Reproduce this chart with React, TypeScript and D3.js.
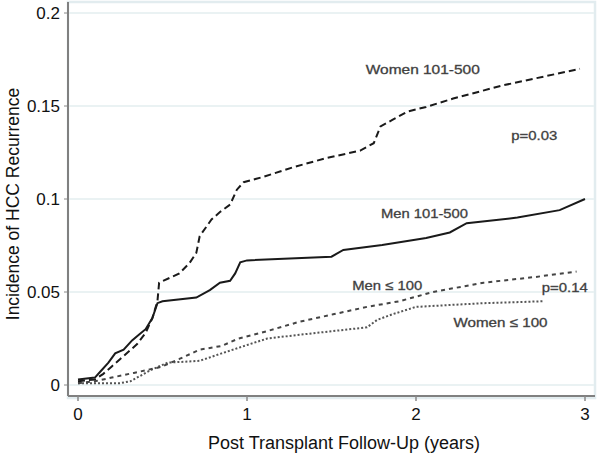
import React from "react";
import * as d3 from "d3";

const womenHighT = [0, 0.1, 0.15, 0.2, 0.25, 0.3, 0.35, 0.4, 0.44, 0.47, 0.48, 0.6, 0.66, 0.7, 0.72, 0.79, 0.84, 0.9, 0.94, 0.98, 1.1, 1.27, 1.47, 1.67, 1.75, 1.79, 1.86, 1.95, 2.06, 2.22, 2.51, 2.97];
const womenHighV = [0.002, 0.003, 0.006, 0.01, 0.014, 0.018, 0.022, 0.028, 0.036, 0.045, 0.055, 0.06, 0.0656, 0.071, 0.08, 0.089, 0.093, 0.097, 0.105, 0.109, 0.112, 0.117, 0.122, 0.126, 0.13, 0.139, 0.1425, 0.147, 0.1495, 0.154, 0.161, 0.17];

const menHighT = [0, 0.1, 0.13, 0.18, 0.22, 0.27, 0.32, 0.36, 0.4, 0.44, 0.47, 0.5, 0.7, 0.78, 0.84, 0.9, 0.93, 0.96, 1.0, 1.5, 1.57, 1.8, 2.06, 2.2, 2.3, 2.6, 2.85, 3.0];
const menHighV = [0.003, 0.004, 0.007, 0.012, 0.017, 0.019, 0.024, 0.027, 0.03, 0.036, 0.044, 0.045, 0.047, 0.051, 0.055, 0.056, 0.06, 0.066, 0.067, 0.069, 0.0726, 0.0753, 0.079, 0.082, 0.087, 0.09, 0.094, 0.1];

const menLowT = [0, 0.1, 0.2, 0.33, 0.49, 0.6, 0.72, 0.85, 0.95, 1.12, 1.31, 1.51, 1.71, 1.9, 2.1, 2.4, 2.7, 2.95];
const menLowV = [0.001, 0.002, 0.004, 0.0065, 0.0097, 0.014, 0.019, 0.021, 0.025, 0.029, 0.034, 0.038, 0.042, 0.045, 0.05, 0.055, 0.058, 0.061];

const womenLowT = [0, 0.25, 0.31, 0.43, 0.53, 0.72, 0.85, 0.95, 1.12, 1.31, 1.51, 1.71, 1.77, 1.86, 2.0, 2.4, 2.75];
const womenLowV = [0.001, 0.001, 0.002, 0.008, 0.012, 0.013, 0.017, 0.02, 0.025, 0.027, 0.029, 0.031, 0.035, 0.038, 0.042, 0.044, 0.045];

const yTicks = [0, 0.05, 0.1, 0.15, 0.2];
const yTickLabels = ["0", "0.05", "0.1", "0.15", "0.2"];
const xTicks = [0, 1, 2, 3];

const labels = [
  { text: "Women 101-500", t: 2.04, v: 0.1695, w: 114 },
  { text: "p=0.03", t: 2.7, v: 0.134, w: 46 },
  { text: "Men 101-500", t: 2.05, v: 0.0925, w: 87 },
  { text: "Men \u2264 100", t: 1.83, v: 0.0535, w: 70 },
  { text: "p=0.14", t: 2.88, v: 0.0525, w: 46 },
  { text: "Women \u2264 100", t: 2.5, v: 0.0335, w: 94 },
];

export default function App() {
  const W = 600, H = 457;
  const x = d3.scaleLinear().domain([0, 3]).range([78, 585]);
  const y = d3.scaleLinear().domain([0, 0.2]).range([385, 13]);
  const line = d3.line<[number, number]>().x(d => x(d[0])).y(d => y(d[1]));
  const mk = (t: number[], v: number[]) => t.map((ti, i) => [ti, v[i]] as [number, number]);
  const series = [
    { d: mk(womenLowT, womenLowV), dash: "2,2", color: "#555" },
    { d: mk(menLowT, menLowV), dash: "4,4", color: "#444" },
    { d: mk(menHighT, menHighV), dash: "none", color: "#1a1a1a" },
    { d: mk(womenHighT, womenHighV), dash: "7,4", color: "#1a1a1a" },
  ];
  const font = "'Liberation Sans', Arial, sans-serif";
  return (
    <svg width={W} height={H} style={{ position: "absolute", left: 0, top: 0 }} fontFamily={font}>
      <rect x={0} y={0} width={W} height={H} fill="#fff" />
      <rect x={68} y={2} width={527} height={396} fill="none" stroke="#e2ecef" strokeWidth={2.5} />
      {yTicks.map((t, i) => (
        <g key={i}>
          <line x1={69} x2={594} y1={y(t)} y2={y(t)} stroke="#eaf2f3" strokeWidth={2} />
          <line x1={64} x2={68} y1={y(t)} y2={y(t)} stroke="#888" strokeWidth={1} />
          <text x={60} y={y(t)} dy="0.35em" textAnchor="end" fontSize={17} fill="#111">{yTickLabels[i]}</text>
        </g>
      ))}
      <line x1={68} x2={68} y1={2} y2={396} stroke="#808080" strokeWidth={2} />
      <line x1={68} x2={595} y1={396} y2={396} stroke="#808080" strokeWidth={2} />
      {xTicks.map(t => (
        <g key={t}>
          <line x1={x(t)} x2={x(t)} y1={396} y2={401} stroke="#888" strokeWidth={1.5} />
          <text x={x(t)} y={414} dy="0.35em" textAnchor="middle" fontSize={17} fill="#111">{t}</text>
        </g>
      ))}
      {series.map((s, i) => (
        <path key={i} d={line(s.d) || ""} fill="none" stroke={s.color} strokeWidth={2} strokeDasharray={s.dash} />
      ))}
      {labels.map((l, i) => (
        <text key={i} x={x(l.t)} y={y(l.v)} dy="0.35em" textAnchor="middle" fontSize={13.5}
          textLength={l.w} lengthAdjust="spacingAndGlyphs" fill="#333" stroke="#555" strokeWidth={0.35}>{l.text}</text>
      ))}
      <text x={344} y={443} dy="0.35em" textAnchor="middle" fontSize={18} fill="#111">Post Transplant Follow-Up (years)</text>
      <text transform={`translate(13,${204}) rotate(-90)`} dy="0.35em" textAnchor="middle" fontSize={17.5} fill="#111">Incidence of HCC Recurrence</text>
    </svg>
  );
}
